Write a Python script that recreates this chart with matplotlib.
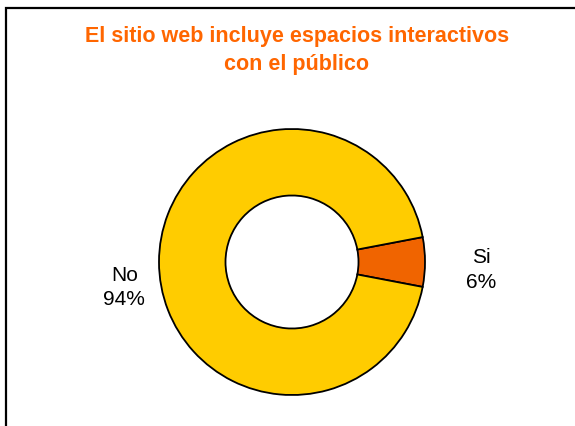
import matplotlib.pyplot as plt
from matplotlib.patches import Rectangle
import numpy as np

plt.rcParams['font.family'] = ['Liberation Sans', 'DejaVu Sans']

labels = ["Si", "No"]
values = [6, 94]
colors = ["#F06400", "#FFCC00"]
title = "El sitio web incluye espacios interactivos\ncon el público"

fig = plt.figure(figsize=(5.75, 4.26), dpi=100)

# frame around the chart (runs off the right and bottom edge)
fig.patches.append(Rectangle((5.5 / 575, -0.1), 1.2, 1 - 7.5 / 426 + 0.1,
                             transform=fig.transFigure, fill=False,
                             edgecolor="black", linewidth=1.6))

# baseline of the last title line
fig.text(297 / 575, 1 - 70 / 426, title, ha="center", va="baseline",
         fontsize=15.5, fontweight="bold", color="#FF6600", linespacing=1.45)

ax = fig.add_axes([159 / 575, 31 / 426, 266 / 575, 266 / 426])
start = -values[0] / 100 * 360 / 2
wedges, _ = ax.pie(values, colors=colors, startangle=start, counterclock=True,
                   radius=1, wedgeprops=dict(width=0.5, edgecolor="black", linewidth=1.3))
ax.set_xlim(-1, 1)
ax.set_ylim(-1, 1)
ax.set_aspect("equal")
ax.axis("off")

# label positions: Si on the right, No on the left
pos = {"Si": (1.42, -0.06), "No": (-1.26, -0.19)}
for lab, val in zip(labels, values):
    x, y = pos[lab]
    ax.text(x, y, f"{lab}\n{val}%", ha="center", va="center", fontsize=15,
            linespacing=1.35, clip_on=False)

fig.savefig("out.png", dpi=100)
